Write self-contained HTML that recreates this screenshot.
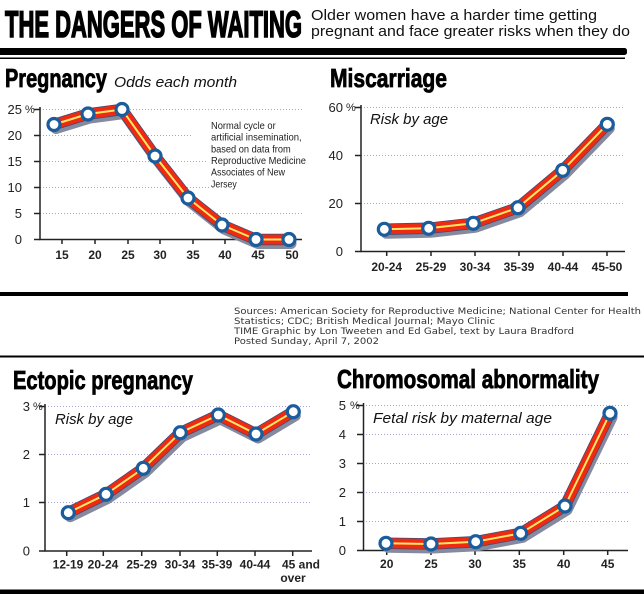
<!DOCTYPE html>
<html><head><meta charset="utf-8">
<style>
html,body{margin:0;padding:0;background:#fff;}
svg{display:block;}
</style></head><body>
<svg width="644" height="594" viewBox="0 0 644 594" xmlns="http://www.w3.org/2000/svg">
<rect width="644" height="594" fill="#fff"/>

<!-- HEADER -->
<text x="5" y="37" font-family="Liberation Sans, sans-serif" font-weight="bold" font-size="37" textLength="297" lengthAdjust="spacingAndGlyphs" stroke="#000" stroke-width="1.6" fill="#000">THE DANGERS OF WAITING</text>
<text x="311" y="20" font-family="Liberation Sans, sans-serif" font-size="15" textLength="286" lengthAdjust="spacingAndGlyphs" fill="#111">Older women have a harder time getting</text>
<text x="311" y="36" font-family="Liberation Sans, sans-serif" font-size="15" textLength="319" lengthAdjust="spacingAndGlyphs" fill="#111">pregnant and face greater risks when they do</text>
<rect x="0" y="48" width="623" height="7" fill="#000"/>
<rect x="618" y="48" width="9" height="7" rx="2.5" fill="#000"/>
<rect x="0" y="57.5" width="625" height="1.5" fill="#000"/>

<!-- SECTION TITLES -->
<g font-family="Liberation Sans, sans-serif" font-weight="bold" font-size="26" fill="#000" stroke="#000" stroke-width="0.8">
  <text x="5" y="87" textLength="102" lengthAdjust="spacingAndGlyphs">Pregnancy</text>
  <text x="330" y="87" textLength="117" lengthAdjust="spacingAndGlyphs">Miscarriage</text>
  <text x="13" y="389" textLength="180" lengthAdjust="spacingAndGlyphs">Ectopic pregnancy</text>
  <text x="337" y="388" textLength="262" lengthAdjust="spacingAndGlyphs">Chromosomal abnormality</text>
</g>
<g font-family="Liberation Sans, sans-serif" font-style="italic" fill="#111">
  <text x="114" y="87" font-size="15" textLength="123" lengthAdjust="spacingAndGlyphs">Odds each month</text>
  <text x="370" y="124" font-size="14.5" textLength="78" lengthAdjust="spacingAndGlyphs">Risk by age</text>
  <text x="55" y="424" font-size="14.5" textLength="78" lengthAdjust="spacingAndGlyphs">Risk by age</text>
  <text x="373" y="423" font-size="14.5" textLength="179" lengthAdjust="spacingAndGlyphs">Fetal risk by maternal age</text>
</g>

<!-- GRIDLINES -->
<g stroke="#a8a2d6" stroke-width="1" stroke-dasharray="1 2">
  <line x1="40" y1="109.5" x2="304" y2="109.5"/>
  <line x1="40" y1="135.5" x2="193" y2="135.5"/>
  <line x1="40" y1="161.5" x2="207" y2="161.5"/>
  <line x1="40" y1="187.5" x2="209" y2="187.5"/>
  <line x1="40" y1="213.5" x2="304" y2="213.5"/>

  <line x1="361" y1="107.5" x2="625" y2="107.5"/>
  <line x1="361" y1="155.5" x2="625" y2="155.5"/>
  <line x1="361" y1="203.5" x2="625" y2="203.5"/>

  <line x1="45" y1="406.5" x2="312" y2="406.5"/>
  <line x1="45" y1="454.5" x2="312" y2="454.5"/>
  <line x1="45" y1="502.5" x2="312" y2="502.5"/>

  <line x1="363" y1="405.5" x2="628" y2="405.5"/>
  <line x1="363" y1="434.5" x2="628" y2="434.5"/>
  <line x1="363" y1="463.5" x2="628" y2="463.5"/>
  <line x1="363" y1="492.5" x2="628" y2="492.5"/>
  <line x1="363" y1="521.5" x2="628" y2="521.5"/>
</g>

<!-- AXES + TICKS -->
<g stroke="#222" stroke-width="1.5" fill="none">
  <path d="M40 107 V239.5 H302"/>
  <path d="M34 109.5H40 M34 135.5H40 M34 161.5H40 M34 187.5H40 M34 213.5H40 M34 239.5H40"/>
  <path d="M62 239.5V244 M95 239.5V244 M128 239.5V244 M160 239.5V244 M193 239.5V244 M225 239.5V244 M258 239.5V244 M292 239.5V244"/>

  <path d="M361 105 V251.5 H625"/>
  <path d="M355 107.5H361 M355 155.5H361 M355 203.5H361 M355 251.5H361"/>
  <path d="M386.7 251.5V256 M431 251.5V256 M475 251.5V256 M519 251.5V256 M563 251.5V256 M607 251.5V256"/>

  <path d="M45 404 V551 H312"/>
  <path d="M39 406.5H45 M39 454.5H45 M39 502.5H45 M39 551H45"/>
  <path d="M66.7 551V556 M103.3 551V556 M141.7 551V556 M180 551V556 M217.3 551V556 M255 551V556 M292.7 551V556"/>

  <path d="M363.5 403 V550.5 H628"/>
  <path d="M357 405.5H363 M357 434.5H363 M357 463.5H363 M357 492.5H363 M357 521.5H363 M357 550.5H363"/>
  <path d="M386.7 550.5V555 M431 550.5V555 M475 550.5V555 M519.3 550.5V555 M563.7 550.5V555 M607.7 550.5V555"/>
</g>

<!-- Y LABELS -->
<g font-family="Liberation Sans, sans-serif" font-size="13" fill="#222" text-anchor="end">
  <text x="22" y="114">25</text><text x="22" y="140">20</text><text x="22" y="166">15</text>
  <text x="22" y="192">10</text><text x="22" y="218">5</text><text x="22" y="244">0</text>

  <text x="343" y="112">60</text><text x="343" y="160">40</text><text x="343" y="208">20</text><text x="343" y="256">0</text>

  <text x="30" y="411">3</text><text x="30" y="459">2</text><text x="30" y="507">1</text><text x="30" y="555.5">0</text>

  <text x="346" y="410">5</text><text x="346" y="439">4</text><text x="346" y="468">3</text>
  <text x="346" y="497">2</text><text x="346" y="526">1</text><text x="346" y="555">0</text>
</g>
<g font-family="Liberation Sans, sans-serif" font-size="11" fill="#222">
  <text x="25" y="113">%</text>
  <text x="346" y="111">%</text>
  <text x="33" y="410">%</text>
  <text x="350" y="409">%</text>
</g>

<!-- X LABELS -->
<g font-family="Liberation Sans, sans-serif" font-size="12" font-weight="bold" fill="#222" text-anchor="middle">
  <text x="62" y="259">15</text><text x="95" y="259">20</text><text x="128" y="259">25</text><text x="160" y="259">30</text>
  <text x="193" y="259">35</text><text x="225" y="259">40</text><text x="258" y="259">45</text><text x="292" y="259">50</text>

  <text x="386.7" y="271">20-24</text><text x="431" y="271">25-29</text><text x="475" y="271">30-34</text>
  <text x="519" y="271">35-39</text><text x="563" y="271">40-44</text><text x="607" y="271">45-50</text>

  <text x="68" y="568.5">12-19</text><text x="103" y="568.5">20-24</text><text x="141.7" y="568.5">25-29</text>
  <text x="180" y="568.5">30-34</text><text x="217" y="568.5">35-39</text><text x="255" y="568.5">40-44</text>
  <text x="301" y="568.5">45 and</text><text x="293" y="582">over</text>

  <text x="386.7" y="568">20</text><text x="431" y="568">25</text><text x="475" y="568">30</text>
  <text x="519.3" y="568">35</text><text x="563.7" y="568">40</text><text x="607.7" y="568">45</text>
</g>

<!-- NOTE -->
<g font-family="Liberation Sans, sans-serif" font-size="10.5" fill="#222">
  <text x="211" y="129" textLength="64.7" lengthAdjust="spacingAndGlyphs">Normal cycle or</text>
  <text x="211" y="140.7" textLength="90.7" lengthAdjust="spacingAndGlyphs">artificial insemination,</text>
  <text x="211" y="152.4" textLength="79.7" lengthAdjust="spacingAndGlyphs">based on data from</text>
  <text x="211" y="164" textLength="95" lengthAdjust="spacingAndGlyphs">Reproductive Medicine</text>
  <text x="211" y="175.7" textLength="74" lengthAdjust="spacingAndGlyphs">Associates of New</text>
  <text x="211" y="187.4" textLength="25.7" lengthAdjust="spacingAndGlyphs">Jersey</text>
</g>

<!-- SERIES -->
<g fill="none" stroke-linejoin="round" stroke-linecap="round">
  <!-- chart 1 -->
  <polyline transform="translate(2,4)" stroke="#868a9e" stroke-width="11" points="54,124.5 88,114 122,109.5 155,156 188,198 222,225 256,239.5 289,239.5"/>
  <polyline stroke="#3c4a78" stroke-width="11.5" points="54,124.5 88,114 122,109.5 155,156 188,198 222,225 256,239.5 289,239.5"/>
  <polyline stroke="#ee2a12" stroke-width="10" points="54,124.5 88,114 122,109.5 155,156 188,198 222,225 256,239.5 289,239.5"/>
  <polyline stroke="#ffe866" stroke-width="2" points="54,124.5 88,114 122,109.5 155,156 188,198 222,225 256,239.5 289,239.5"/>
  <!-- chart 2 -->
  <polyline transform="translate(2,4)" stroke="#868a9e" stroke-width="11" points="384.3,229.3 428.7,228.3 473.3,223.3 518,207.7 562.7,170.3 607.3,124.3"/>
  <polyline stroke="#3c4a78" stroke-width="11.5" points="384.3,229.3 428.7,228.3 473.3,223.3 518,207.7 562.7,170.3 607.3,124.3"/>
  <polyline stroke="#ee2a12" stroke-width="10" points="384.3,229.3 428.7,228.3 473.3,223.3 518,207.7 562.7,170.3 607.3,124.3"/>
  <polyline stroke="#ffe866" stroke-width="2" points="384.3,229.3 428.7,228.3 473.3,223.3 518,207.7 562.7,170.3 607.3,124.3"/>
  <!-- chart 3 -->
  <polyline transform="translate(2,4)" stroke="#868a9e" stroke-width="11" points="68.3,512.7 106,494.3 143.3,468.3 180.3,432.7 218.3,415 256,434 293.3,411.7"/>
  <polyline stroke="#3c4a78" stroke-width="11.5" points="68.3,512.7 106,494.3 143.3,468.3 180.3,432.7 218.3,415 256,434 293.3,411.7"/>
  <polyline stroke="#ee2a12" stroke-width="10" points="68.3,512.7 106,494.3 143.3,468.3 180.3,432.7 218.3,415 256,434 293.3,411.7"/>
  <polyline stroke="#ffe866" stroke-width="2" points="68.3,512.7 106,494.3 143.3,468.3 180.3,432.7 218.3,415 256,434 293.3,411.7"/>
  <!-- chart 4 -->
  <polyline transform="translate(2,4)" stroke="#868a9e" stroke-width="11" points="386,543.3 431,544 475.7,541.7 520.7,533.3 565,506 610,413.3"/>
  <polyline stroke="#3c4a78" stroke-width="11.5" points="386,543.3 431,544 475.7,541.7 520.7,533.3 565,506 610,413.3"/>
  <polyline stroke="#ee2a12" stroke-width="10" points="386,543.3 431,544 475.7,541.7 520.7,533.3 565,506 610,413.3"/>
  <polyline stroke="#ffe866" stroke-width="2" points="386,543.3 431,544 475.7,541.7 520.7,533.3 565,506 610,413.3"/>
</g>

<!-- MARKERS -->
<g fill="#fff" stroke="#1a5c9c" stroke-width="3.2">
  <circle cx="54" cy="124.5" r="6"/><circle cx="88" cy="114" r="6"/><circle cx="122" cy="109.5" r="6"/>
  <circle cx="155" cy="156" r="6"/><circle cx="188" cy="198" r="6"/><circle cx="222" cy="225" r="6"/>
  <circle cx="256" cy="239.5" r="6"/><circle cx="289" cy="239.5" r="6"/>

  <circle cx="384.3" cy="229.3" r="6"/><circle cx="428.7" cy="228.3" r="6"/><circle cx="473.3" cy="223.3" r="6"/>
  <circle cx="518" cy="207.7" r="6"/><circle cx="562.7" cy="170.3" r="6"/><circle cx="607.3" cy="124.3" r="6"/>

  <circle cx="68.3" cy="512.7" r="6"/><circle cx="106" cy="494.3" r="6"/><circle cx="143.3" cy="468.3" r="6"/>
  <circle cx="180.3" cy="432.7" r="6"/><circle cx="218.3" cy="415" r="6"/><circle cx="256" cy="434" r="6"/>
  <circle cx="293.3" cy="411.7" r="6"/>

  <circle cx="386" cy="543.3" r="6"/><circle cx="431" cy="544" r="6"/><circle cx="475.7" cy="541.7" r="6"/>
  <circle cx="520.7" cy="533.3" r="6"/><circle cx="565" cy="506" r="6"/><circle cx="610" cy="413.3" r="6"/>
</g>

<!-- DIVIDERS -->
<rect x="0" y="292" width="628" height="4" fill="#000"/>
<rect x="0" y="355.5" width="644" height="2" fill="#000"/>
<rect x="0" y="589.5" width="644" height="4.5" fill="#000"/>

<!-- SOURCES -->
<g font-family="DejaVu Sans, Liberation Sans, sans-serif" font-size="9" fill="#333">
  <text x="234" y="314" textLength="407" lengthAdjust="spacingAndGlyphs">Sources: American Society for Reproductive Medicine; National Center for Health</text>
  <text x="234" y="324" textLength="261" lengthAdjust="spacingAndGlyphs">Statistics; CDC; British Medical Journal; Mayo Clinic</text>
  <text x="234" y="334" textLength="340" lengthAdjust="spacingAndGlyphs">TIME Graphic by Lon Tweeten and Ed Gabel, text by Laura Bradford</text>
  <text x="234" y="344" textLength="145" lengthAdjust="spacingAndGlyphs">Posted Sunday, April 7, 2002</text>
</g>
</svg>
</body></html>
